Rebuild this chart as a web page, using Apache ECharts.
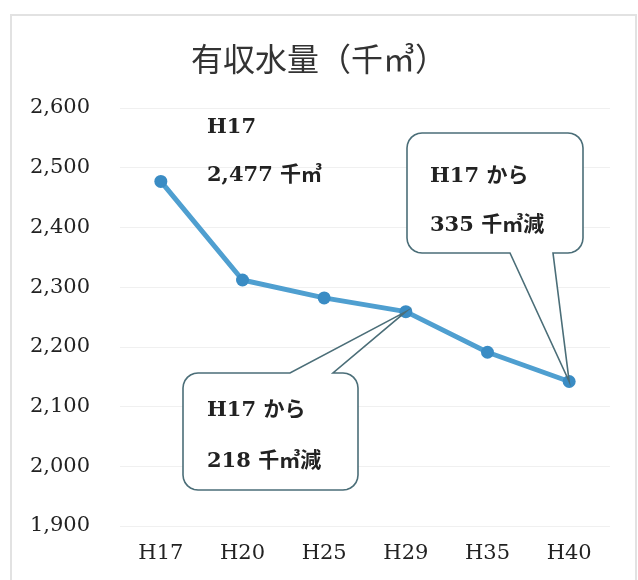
<!DOCTYPE html>
<html>
<head>
<meta charset="utf-8">
<script src="https://cdn.jsdelivr.net/npm/echarts@6/dist/echarts.min.js"></script>
<style>
  html, body { margin: 0; padding: 0; background: #ffffff; }
  #main { width: 638px; height: 580px; }
</style>
</head>
<body>
<div id="main"></div>
<script>
  // 年度と有収水量（千㎥）
  var years = ['H17', 'H20', 'H25', 'H29', 'H35', 'H40'];
  var volumes = [2477, 2312, 2282, 2259, 2191, 2142];
  var yTicks = { min: 1900, max: 2600, step: 100 };

  var serif = "'DejaVu Serif', 'Noto Sans CJK JP', serif";
  var lineColor = '#4f9fd0';
  var boxColor = '#4b6e78';

  var myChart = echarts.init(document.getElementById('main'));

  var option = {
    backgroundColor: '#ffffff',
    animation: false,
    title: {
      text: '有収水量（千㎥）',
      left: 'center',
      top: 38,
      textStyle: {
        fontFamily: "'Noto Sans CJK JP', serif",
        fontSize: 32,
        fontWeight: 'normal',
        color: '#333333'
      }
    },
    grid: { left: 120, right: 28, top: 108, bottom: 54 },
    xAxis: {
      type: 'category',
      data: years,
      axisLine: { show: false },
      axisTick: { show: false },
      axisLabel: {
        margin: 17,
        fontFamily: serif,
        fontSize: 21,
        color: '#222222'
      }
    },
    yAxis: {
      type: 'value',
      min: yTicks.min,
      max: yTicks.max,
      interval: yTicks.step,
      axisLine: { show: false },
      axisTick: { show: false },
      splitLine: { lineStyle: { color: '#f0f0f0', width: 1 } },
      axisLabel: {
        margin: 30,
        fontFamily: serif,
        fontSize: 21,
        color: '#222222',
        formatter: function (v) { return v.toLocaleString('en-US'); }
      }
    },
    series: [{
      type: 'line',
      data: volumes,
      symbol: 'circle',
      symbolSize: 13,
      lineStyle: { color: lineColor, width: 5 },
      itemStyle: { color: '#3a8cc4' },
      z: 3
    }]
  };

  myChart.setOption(option);

  // 角丸の点列
  function corner(cx, cy, r, a0, a1) {
    var pts = [];
    for (var i = 0; i <= 6; i++) {
      var a = a0 + (a1 - a0) * i / 6;
      pts.push([cx + r * Math.cos(a), cy + r * Math.sin(a)]);
    }
    return pts;
  }

  // 吹き出しの形（角丸＋三角の指し口）
  function bubble(x0, y0, x1, y1, r, side, b1, b2, tip) {
    var P = Math.PI;
    var pts = [];
    pts = pts.concat(corner(x0 + r, y0 + r, r, P, 1.5 * P));
    if (side === 'top') {
      pts.push([b1, y0], tip, [b2, y0]);
    }
    pts = pts.concat(corner(x1 - r, y0 + r, r, 1.5 * P, 2 * P));
    pts = pts.concat(corner(x1 - r, y1 - r, r, 0, 0.5 * P));
    if (side === 'bottom') {
      pts.push([b2, y1], tip, [b1, y1]);
    }
    pts = pts.concat(corner(x0 + r, y1 - r, r, 0.5 * P, P));
    return {
      type: 'polygon',
      z: 10,
      shape: { points: pts },
      style: { fill: '#ffffff', stroke: boxColor, lineWidth: 1.6 }
    };
  }

  function label(x, y, text) {
    return {
      type: 'text',
      left: x,
      top: y,
      z: 20,
      style: {
        text: text,
        font: 'bold 21px ' + serif,
        fill: '#222222'
      }
    };
  }

  var tip29 = myChart.convertToPixel({ seriesIndex: 0 }, ['H29', volumes[3]]);
  var tip40 = myChart.convertToPixel({ seriesIndex: 0 }, ['H40', volumes[5]]);

  myChart.setOption({
    graphic: [
      {
        type: 'rect',
        shape: { x: 11, y: 15, width: 625, height: 570 },
        style: { fill: 'none', stroke: '#e2e2e2', lineWidth: 2 },
        silent: true
      },
      bubble(407, 133, 583, 253, 15, 'bottom', 510, 553, tip40),
      bubble(183, 373, 358, 490, 15, 'top', 290, 333, tip29),
      label(207, 117, 'H17'),
      label(207, 165, '2,477 千㎥'),
      label(430, 166, 'H17 から'),
      label(430, 215, '335 千㎥減'),
      label(207, 400, 'H17 から'),
      label(207, 451, '218 千㎥減')
    ]
  });

  window.addEventListener('resize', function () {
    myChart.resize();
  });
</script>
</body>
</html>
